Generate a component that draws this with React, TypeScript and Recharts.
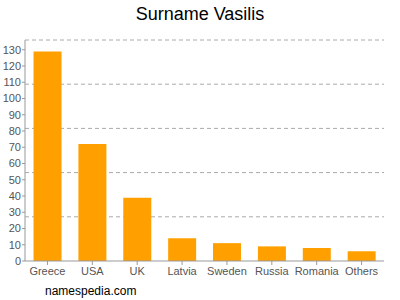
import { BarChart, Bar, XAxis, YAxis, CartesianGrid } from 'recharts';

const countries = ['Greece', 'USA', 'UK', 'Latvia', 'Sweden', 'Russia', 'Romania', 'Others'];
const counts = [129, 72, 39, 14, 11, 9, 8, 6];
const yTicks = [0, 10, 20, 30, 40, 50, 60, 70, 80, 90, 100, 110, 120, 130];
const yMax = 136;

const data = countries.map((name, i) => ({ name, count: counts[i] }));
const gridValues = [1, 2, 3, 4, 5].map((i) => (yMax * i) / 5);

const font = '"Liberation Sans", Arial, sans-serif';
const tickStyle = { fontSize: 11, fill: '#555', fontFamily: font };

export default function App() {
  return (
    <div style={{ position: 'absolute', left: 0, top: 0, width: 400, height: 300, background: '#fff' }}>
      <div
        style={{
          position: 'absolute',
          top: 4,
          width: 400,
          textAlign: 'center',
          fontFamily: font,
          fontSize: 18,
          color: '#000',
        }}
      >
        Surname Vasilis
      </div>
      <BarChart
        width={400}
        height={300}
        data={data}
        margin={{ top: 40, right: 16, bottom: 9, left: 0 }}
        barCategoryGap="19%"
      >
        <CartesianGrid
          vertical={false}
          horizontalValues={gridValues}
          stroke="#aaa"
          strokeDasharray="4 3"
        />
        <XAxis
          dataKey="name"
          height={30}
          tick={tickStyle}
          tickSize={4}
          tickMargin={2}
          stroke="#999"
          interval={0}
        />
        <YAxis
          width={25}
          domain={[0, yMax]}
          ticks={yTicks}
          tick={tickStyle}
          tickSize={3}
          tickMargin={1}
          stroke="#999"
          interval={0}
        />
        <Bar dataKey="count" fill="#ffa000" isAnimationActive={false} />
      </BarChart>
      <div
        style={{
          position: 'absolute',
          top: 284,
          left: 45,
          fontFamily: font,
          fontSize: 12,
          color: '#000',
        }}
      >
        namespedia.com
      </div>
    </div>
  );
}
